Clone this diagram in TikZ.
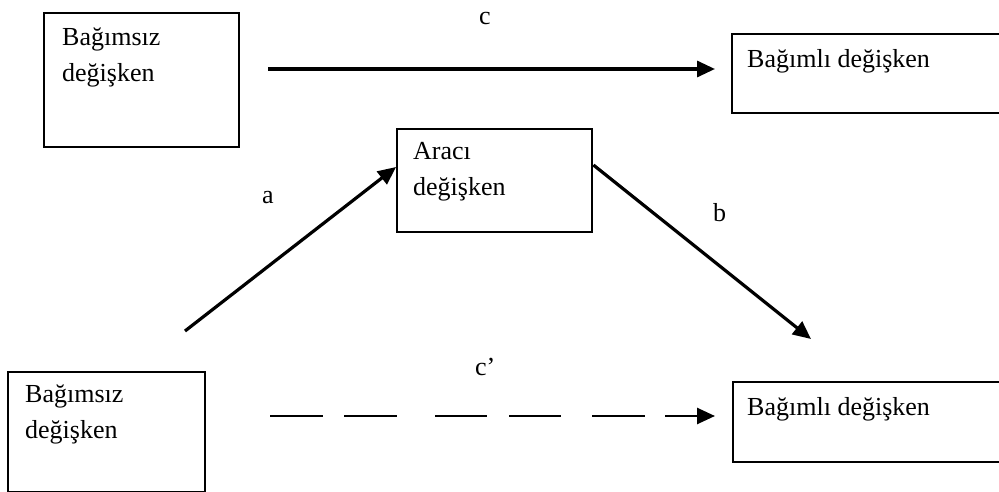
\documentclass[tikz,border=0pt]{standalone}
\usepackage{fontspec}
\setmainfont{Liberation Serif}
\usetikzlibrary{arrows.meta}
\begin{document}
\begin{tikzpicture}[x=1pt,y=-1pt,
  box/.style={draw=black, line width=2.4pt, inner sep=0pt, anchor=north west},
  txt/.style={font=\fontsize{26}{36}\selectfont, inner sep=0pt, align=left},
  conn/.style={line width=3.2pt, -{Triangle[length=18pt,width=16pt]}},
]
\useasboundingbox (0,0) rectangle (999,492);
\clip (0,0) rectangle (999,492);
% boxes
\node[box, minimum width=195pt, minimum height=134pt] (tl) at (43,12) {};
\node[box, minimum width=280pt, minimum height=79pt] (tr) at (731,33) {};
\node[box, minimum width=195pt, minimum height=103pt] (mid) at (396,128) {};
\node[box, minimum width=197pt, minimum height=120pt] (bl) at (7,371) {};
\node[box, minimum width=280pt, minimum height=80pt] (br) at (732,381) {};
% box texts
\node[txt, anchor=north west] (tlt) at (62,27.5) {Bağımsız\\değişken};
\node[txt, anchor=base west] (trt) at (747,68) {Bağımlı değişken};
\node[txt, anchor=north west] (midt) at (413,142.5) {Aracı\\değişken};
\node[txt, anchor=north west] (blt) at (25,384.5) {Bağımsız\\değişken};
\node[txt, anchor=base west] (brt) at (747,415) {Bağımlı değişken};
% labels
\node[txt, anchor=base west] (lc) at (479,25) {c};
\node[txt, anchor=base west] (la) at (262,204) {a};
\node[txt, anchor=base west] (lb) at (713,221) {b};
\node[txt, anchor=base west] (lcp) at (475,375) {c’};
% free ends
\coordinate (cS) at (268,69);
\coordinate (cE) at (715,69);
\coordinate (aS) at (185,331);
\coordinate (bE) at (811,339);
\coordinate (dS) at (270,416);
\coordinate (dE) at (715,416);
% connectors
\draw[conn] (cS) -- (cE);
\draw[conn] (aS) -- ([yshift=-39pt]mid.north west);
\draw[conn] ([yshift=-37pt]mid.north east) -- (bE);
\draw[line width=2.6pt, dash pattern=on 53pt off 21pt on 53pt off 38pt on 52pt off 22pt on 52pt off 31pt on 53pt off 20pt on 60pt,
  -{Triangle[length=18pt,width=16pt]}] (dS) -- (dE);
\end{tikzpicture}
\end{document}
